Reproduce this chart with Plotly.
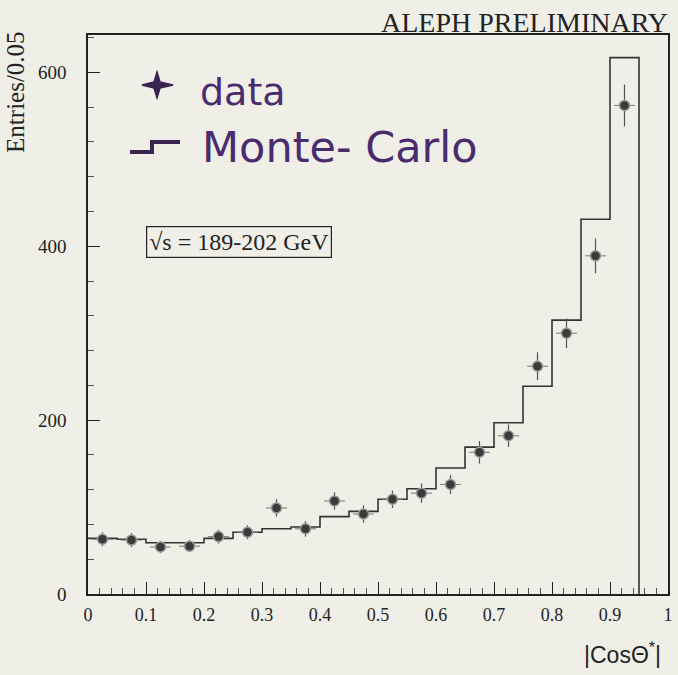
import plotly.graph_objects as go

# ---- data ----
bin_edges = [0.0, 0.05, 0.1, 0.15, 0.2, 0.25, 0.3, 0.35, 0.4, 0.45, 0.5,
             0.55, 0.6, 0.65, 0.7, 0.75, 0.8, 0.85, 0.9, 0.95]
bin_centers = [0.025, 0.075, 0.125, 0.175, 0.225, 0.275, 0.325, 0.375, 0.425, 0.475,
               0.525, 0.575, 0.625, 0.675, 0.725, 0.775, 0.825, 0.875, 0.925]
data_vals = [63, 62, 54, 55, 66, 71, 99, 75, 107, 92,
             109, 116, 126, 163, 182, 262, 300, 389, 562]
data_errs = [8, 8, 7, 7, 8, 8, 10, 9, 10, 10,
             10, 11, 11, 13, 13, 16, 17, 20, 24]
mc_vals = [64, 63, 59, 59, 64, 71, 75, 77, 89, 95,
           109, 121, 145, 169, 197, 239, 315, 431, 617]
x_ticks = [0, 0.1, 0.2, 0.3, 0.4, 0.5, 0.6, 0.7, 0.8, 0.9, 1]
x_tick_text = ["0", "0.1", "0.2", "0.3", "0.4", "0.5", "0.6", "0.7", "0.8", "0.9", "1"]
y_ticks = [0, 200, 400, 600]

BG = "#efefe8"
INK = "#222222"
PEN = "#4a2c6e"
SERIF = "Liberation Serif, Times New Roman, serif"

fig = go.Figure()

# Monte-Carlo histogram (step)
fig.add_trace(go.Scatter(
    x=bin_edges, y=mc_vals + [0],
    mode="lines", line=dict(shape="hv", color="#333333", width=1.6),
    showlegend=False, hoverinfo="skip"))

# data points with errors
fig.add_trace(go.Scatter(
    x=bin_centers, y=data_vals, mode="markers",
    marker=dict(color="#3a3a3a", size=10, symbol="circle",
                line=dict(color="#9a9a9a", width=1.5)),
    error_y=dict(type="data", array=data_errs, color="#555555", thickness=1.2, width=0),
    error_x=dict(type="constant", value=0.018, color="#777777", thickness=1, width=0),
    showlegend=False))

fig.update_layout(
    width=678, height=675,
    margin=dict(l=88, r=10, t=35, b=81, autoexpand=False),
    paper_bgcolor=BG, plot_bgcolor=BG,
    font=dict(family=SERIF, color=INK, size=16),
    showlegend=False,
)
fig.update_xaxes(
    range=[0, 1.0], tickvals=x_ticks, ticktext=x_tick_text,
    ticks="inside", ticklen=12, tickwidth=1, tickcolor=INK,
    minor=dict(ticks="inside", ticklen=6, dtick=0.02, tickcolor="#555555"),
    showgrid=False, zeroline=False, showline=True, linecolor=INK, linewidth=1.6,
    mirror=True, tickfont=dict(family=SERIF, size=18), ticklabelstandoff=4)
fig.update_yaxes(
    range=[0, 643], tickvals=y_ticks,
    ticks="inside", ticklen=12, tickwidth=1, tickcolor=INK,
    minor=dict(ticks="inside", ticklen=6, dtick=40, tickcolor="#555555"),
    showgrid=False, zeroline=False, showline=True, linecolor=INK, linewidth=1.6,
    mirror=True, tickfont=dict(family=SERIF, size=19), ticklabelstandoff=16)

# header
fig.add_annotation(text="ALEPH PRELIMINARY", xref="paper", yref="paper",
                   x=1.004, y=1.0, xanchor="right", yanchor="bottom", yshift=-5,
                   showarrow=False, font=dict(family=SERIF, size=28, color=INK))
# y title
fig.add_annotation(text="Entries/0.05", xref="paper", yref="paper",
                   x=-0.125, y=1.01, xanchor="center", yanchor="top", textangle=-90,
                   showarrow=False, font=dict(family=SERIF, size=25, color=INK))
# x title
fig.add_annotation(text="|Cos\u0398<sup>*</sup>|", xref="paper", yref="paper",
                   x=0.992, y=-0.075, xanchor="right", yanchor="top",
                   showarrow=False, font=dict(family="Liberation Sans, Arial, sans-serif",
                                              size=23, color=INK))

# handwritten legend
fig.add_annotation(text="data", xref="paper", yref="paper",
                   x=0.19, y=0.898, xanchor="left", yanchor="middle",
                   showarrow=False, font=dict(family="DejaVu Sans", size=38, color=PEN))
fig.add_annotation(text="Monte- Carlo", xref="paper", yref="paper",
                   x=0.193, y=0.80, xanchor="left", yanchor="middle",
                   showarrow=False, font=dict(family="DejaVu Sans", size=43, color=PEN))
# legend symbols
fig.add_shape(type="path", xref="paper", yref="paper",
              path=("M 0.119 0.9338 L 0.1242 0.916 L 0.1466 0.9106 L 0.1242 0.9052 "
                    "L 0.119 0.8873 L 0.1138 0.9052 L 0.0931 0.9106 L 0.1138 0.916 Z"),
              fillcolor="#3a2450", line=dict(color="#3a2450", width=1.5))
fig.add_shape(type="path", xref="paper", yref="paper",
              path="M 0.0724 0.7907 L 0.1103 0.7907 L 0.1103 0.8086 L 0.1586 0.8086",
              line=dict(color="#3a2450", width=4))

# energy box
fig.add_annotation(text="\u221As = 189-202 GeV", xref="paper", yref="paper",
                   x=0.1, y=0.63, xanchor="left", yanchor="middle",
                   showarrow=False, bordercolor=INK, borderwidth=1.2, borderpad=2,
                   font=dict(family=SERIF, size=24, color=INK))

fig.write_html("out.html", config={"displayModeBar": False},
               post_script="document.body.style.margin='0';document.body.style.padding='0';")
